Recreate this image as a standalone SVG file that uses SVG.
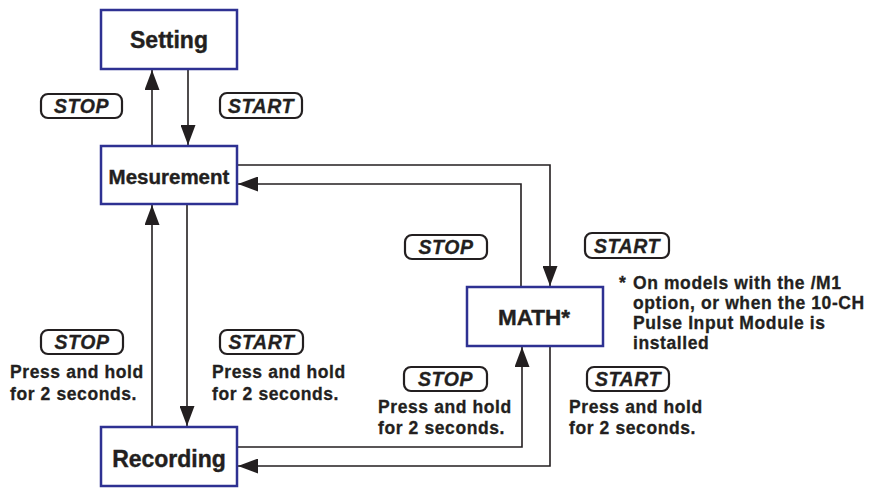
<svg xmlns="http://www.w3.org/2000/svg" width="876" height="503" viewBox="0 0 876 503">
  <style>
    .box { fill: #ffffff; stroke: #2e3192; stroke-width: 2.5; }
    .title { font-family: "Liberation Sans", Arial, sans-serif; font-weight: bold; fill: #231f20; stroke: #231f20; stroke-width: 0.4; text-anchor: middle; }
    .wire { fill: none; stroke: #231f20; stroke-width: 1.6; }
    .key { fill: #ffffff; stroke: #231f20; stroke-width: 2.2; }
    .keytext { font-family: "Liberation Sans", Arial, sans-serif; font-weight: bold; font-style: italic; font-size: 19.5px; letter-spacing: 0.6px; fill: #231f20; stroke: #231f20; stroke-width: 0.3; text-anchor: middle; }
    .note { font-family: "Liberation Sans", Arial, sans-serif; font-weight: bold; font-size: 17.5px; letter-spacing: 0.6px; fill: #231f20; stroke: #231f20; stroke-width: 0.3; }
  </style>
  <defs>
    <marker id="arrow" viewBox="0 0 20 15" refX="20" refY="7.5" markerWidth="20" markerHeight="15" markerUnits="userSpaceOnUse" orient="auto">
      <path d="M0,0 L20,7.5 L0,15 Z" fill="#231f20"/>
    </marker>
  </defs>

  <rect width="876" height="503" fill="#ffffff"/>

  <!-- connectors -->
  <g id="connectors">
    <line class="wire" x1="152" y1="146" x2="152" y2="70" marker-end="url(#arrow)"/>
    <line class="wire" x1="188" y1="69" x2="188" y2="145" marker-end="url(#arrow)"/>
    <line class="wire" x1="152" y1="427" x2="152" y2="205" marker-end="url(#arrow)"/>
    <line class="wire" x1="187" y1="204" x2="187" y2="426" marker-end="url(#arrow)"/>
    <polyline class="wire" points="237,165 550,165 550,286" marker-end="url(#arrow)"/>
    <polyline class="wire" points="521,287 521,184 238,184" marker-end="url(#arrow)"/>
    <polyline class="wire" points="237,447 522,447 522,347" marker-end="url(#arrow)"/>
    <polyline class="wire" points="550,346 550,466 238,466" marker-end="url(#arrow)"/>
  </g>

  <!-- nodes -->
  <g id="setting">
    <rect class="box" x="101" y="10" width="136" height="59"/>
    <text class="title" x="169" y="48" font-size="23">Setting</text>
  </g>
  <g id="measurement">
    <rect class="box" x="101" y="146" width="136" height="58"/>
    <text class="title" x="169" y="184" font-size="20.5">Mesurement</text>
  </g>
  <g id="recording">
    <rect class="box" x="101" y="427" width="136" height="59"/>
    <text class="title" x="169" y="467" font-size="23">Recording</text>
  </g>
  <g id="math">
    <rect class="box" x="467" y="287" width="136" height="59"/>
    <text class="title" x="534" y="325" font-size="22.5">MATH*</text>
  </g>

  <!-- key labels -->
  <g id="key-stop-setting">
    <rect class="key" x="41" y="94" width="81" height="24" rx="7"/>
    <text class="keytext" x="81.5" y="113">STOP</text>
  </g>
  <g id="key-start-setting">
    <rect class="key" x="220" y="93" width="82" height="25" rx="7"/>
    <text class="keytext" x="261" y="112.5">START</text>
  </g>
  <g id="key-stop-recording">
    <rect class="key" x="41" y="330" width="82" height="24" rx="7"/>
    <text class="keytext" x="82" y="349">STOP</text>
    <text class="note" x="10" y="378">Press and hold</text>
    <text class="note" x="10" y="400">for 2 seconds.</text>
  </g>
  <g id="key-start-recording">
    <rect class="key" x="220" y="330" width="83" height="24" rx="7"/>
    <text class="keytext" x="261.5" y="349">START</text>
    <text class="note" x="212" y="378">Press and hold</text>
    <text class="note" x="212" y="400">for 2 seconds.</text>
  </g>
  <g id="key-stop-math">
    <rect class="key" x="405" y="235" width="82" height="24" rx="7"/>
    <text class="keytext" x="446" y="254">STOP</text>
  </g>
  <g id="key-start-math">
    <rect class="key" x="585" y="233" width="84" height="25" rx="7"/>
    <text class="keytext" x="627" y="252.5">START</text>
  </g>
  <g id="key-stop-math-record">
    <rect class="key" x="404" y="367" width="83" height="24" rx="7"/>
    <text class="keytext" x="445.5" y="386">STOP</text>
    <text class="note" x="378" y="413">Press and hold</text>
    <text class="note" x="378" y="434">for 2 seconds.</text>
  </g>
  <g id="key-start-math-record">
    <rect class="key" x="587" y="367" width="82" height="24" rx="7"/>
    <text class="keytext" x="628" y="386">START</text>
    <text class="note" x="569" y="413">Press and hold</text>
    <text class="note" x="569" y="434">for 2 seconds.</text>
  </g>

  <!-- footnote -->
  <g id="footnote">
    <text class="note" x="619" y="289">*</text>
    <text class="note" x="633" y="289">On models with the /M1</text>
    <text class="note" x="633" y="309">option, or when the 10-CH</text>
    <text class="note" x="633" y="329">Pulse Input Module is</text>
    <text class="note" x="633" y="349">installed</text>
  </g>
</svg>
